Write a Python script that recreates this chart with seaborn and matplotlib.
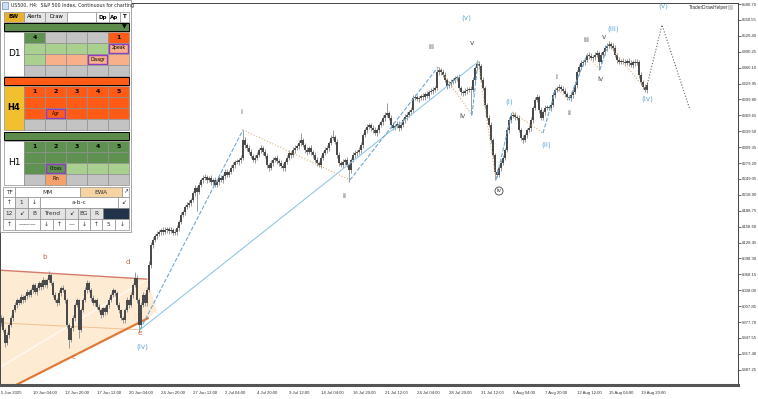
import matplotlib
matplotlib.use("Agg")
import matplotlib.pyplot as plt
import seaborn as sns
import numpy as np
import pandas as pd
from matplotlib.patches import Rectangle, Polygon

sns.set_theme(style="white")
plt.rcParams["font.family"] = ["DejaVu Sans"]

# ---- price data (US500 H4) ----
first_open = 5975
closes = [
    5985, 5963, 5938, 5953, 5972, 5985, 6000, 6010, 6019, 6014,
    6025, 6019, 6027, 6035, 6029, 6038, 6048, 6035, 6042, 6052,
    6044, 6057, 6048, 6057, 6067, 6052, 6029, 6019, 6014, 6033,
    6042, 6038, 6019, 5972, 5944, 5966, 5985, 6010, 6019, 5963,
    6000, 6019, 6038, 6052, 6038, 6023, 6014, 6019, 6006, 6000,
    5991, 6004, 5997, 6010, 6019, 6029, 6038, 6033, 6010, 6000,
    5985, 5981, 6000, 6019, 6010, 6029, 6048, 6061, 6019, 5972,
    6010, 6029, 6014, 6038, 6086, 6124,
    6133, 6141, 6145, 6148, 6152, 6148, 6152, 6154, 6150, 6152,
    6147, 6148, 6156, 6167, 6181, 6186, 6196, 6200, 6203, 6209,
    6222, 6232, 6224, 6238, 6247, 6251, 6253, 6247, 6251, 6243,
    6247, 6238, 6243, 6251, 6247, 6255, 6262, 6257, 6262, 6270,
    6275, 6281, 6281, 6285, 6289, 6323,
    6313, 6308, 6300, 6293, 6285, 6289, 6294, 6304, 6308, 6300,
    6293, 6275, 6270, 6279, 6285, 6289, 6283, 6279, 6274, 6270,
    6281, 6289, 6298, 6294, 6304, 6308, 6312, 6317, 6323, 6313,
    6304, 6300, 6308, 6300, 6294, 6285, 6279, 6275, 6289, 6298,
    6304, 6308, 6317, 6327, 6329, 6319, 6294, 6279, 6275, 6281,
    6285, 6275, 6266,
    6285, 6294, 6298, 6300, 6304, 6313, 6332, 6342, 6348, 6351,
    6346, 6342, 6336, 6342, 6351, 6357, 6365, 6370, 6374, 6365,
    6351, 6346, 6349, 6353, 6346, 6351, 6361, 6366, 6370, 6376,
    6380, 6403, 6404, 6401, 6403, 6406, 6404, 6410, 6406, 6414,
    6416, 6418, 6421, 6452, 6456, 6452, 6446, 6437, 6425, 6429,
    6433, 6437, 6440, 6442, 6421, 6414, 6412, 6416, 6418, 6420,
    6418, 6437, 6459, 6467,
    6463, 6437, 6421, 6389, 6365, 6351, 6323, 6294, 6262, 6257,
    6270, 6279, 6289, 6304, 6342, 6361, 6368, 6370, 6366, 6365,
    6342, 6327, 6323, 6332, 6342, 6346, 6361, 6384, 6399, 6404,
    6380, 6365, 6376, 6384, 6385, 6384, 6389, 6408, 6418, 6421,
    6423, 6420, 6416, 6410, 6404, 6403, 6408, 6414, 6427, 6452,
    6461, 6469, 6471, 6475, 6484, 6482, 6478, 6480, 6484, 6488,
    6471, 6484, 6490, 6497, 6501, 6505, 6501, 6497, 6484, 6475,
    6471, 6473, 6471, 6469, 6473, 6469, 6465, 6471, 6469, 6471,
    6446, 6433, 6423, 6418, 6427,
]
wick_up = [
    6, 4, 3, 5, 4, 6, 3, 5, 4, 3, 5, 4, 3, 6, 4, 5, 4, 3, 5, 4,
    4, 6, 3, 5, 7, 4, 3, 5, 4, 6, 4, 5, 3, 4, 3, 5, 6, 4, 5, 3,
    5, 4, 6, 5, 3, 4, 5, 3, 4, 6, 4, 3, 5, 4, 6, 4, 5, 3, 4, 5,
    3, 5, 4, 6, 3, 5, 4, 12, 5, 4, 6, 5, 4, 7, 8, 6, 5, 4, 6, 5,
    4, 6, 5, 4, 3, 5, 4, 6, 5, 4, 6, 5, 4, 5, 6, 4, 5, 6, 4, 5,
    4, 6, 5, 4, 3, 5, 4, 6, 5, 4, 5, 4, 6, 5, 4, 5, 6, 4, 5, 4,
    6, 19, 5, 4, 6, 5, 4, 5, 6, 4, 5, 4, 6, 5, 4, 5, 6, 4, 5, 4,
    6, 5, 4, 5, 6, 4, 5, 6, 4, 5, 13, 4, 5, 6, 4, 5, 4, 6, 5, 4,
    5, 4, 6, 5, 4, 5, 13, 4, 5, 6, 4, 5, 4, 6, 5, 4, 6, 5, 4, 5,
    6, 5, 4, 6, 5, 4, 5, 6, 4, 5, 4, 6, 5, 19, 4, 5, 6, 4, 5, 6,
    5, 4, 6, 5, 4, 5, 6, 4, 5, 4, 5, 6, 4, 5, 4, 6, 5, 4, 6, 5,
    4, 5, 6, 4, 5, 6, 4, 5, 4, 6, 5, 4, 6, 5, 4, 5, 6, 4, 8, 5,
    4, 6, 5, 4, 5, 6, 4, 5, 6, 4, 5, 6, 4, 5, 6, 4, 5, 6, 4, 5,
    4, 6, 5, 4, 5, 6, 4, 5, 6, 4, 5, 4, 6, 5, 4, 5, 6, 4, 5, 6,
    4, 5, 6, 4, 5, 4, 6, 5, 4, 5, 6, 4, 5, 4, 6, 5, 4, 6, 5, 4,
    5, 4, 6, 5, 6, 4, 5, 6, 4, 5, 4, 6, 5, 4, 5, 6, 4, 5, 6, 4,
    5, 4, 6, 5,
]
wick_dn = [
    4, 5, 8, 4, 5, 3, 6, 4, 5, 4, 3, 5, 4, 6, 4, 3, 5, 4, 6, 4,
    5, 3, 4, 6, 4, 5, 4, 3, 5, 4, 6, 4, 5, 5, 16, 4, 5, 6, 4, 16,
    5, 4, 3, 5, 4, 6, 4, 5, 3, 4, 5, 4, 6, 4, 5, 3, 4, 6, 4, 5,
    4, 5, 6, 4, 5, 4, 6, 3, 5, 13, 5, 4, 6, 5, 4, 5, 6, 4, 5, 4,
    6, 5, 4, 5, 6, 4, 5, 4, 6, 5, 4, 5, 6, 4, 5, 6, 4, 5, 35, 4,
    5, 6, 4, 5, 4, 6, 5, 4, 5, 6, 4, 5, 6, 4, 5, 4, 6, 5, 4, 5,
    6, 4, 5, 6, 4, 5, 4, 6, 5, 4, 5, 6, 4, 5, 6, 4, 5, 4, 6, 5,
    4, 5, 6, 4, 5, 6, 4, 5, 4, 6, 5, 4, 6, 5, 4, 5, 6, 4, 5, 4,
    6, 5, 4, 5, 6, 4, 5, 4, 6, 5, 4, 5, 6, 4, 23, 5, 4, 6, 5, 4,
    5, 6, 4, 5, 4, 6, 5, 4, 6, 5, 4, 5, 6, 4, 5, 6, 4, 5, 4, 6,
    5, 4, 6, 5, 4, 5, 6, 4, 5, 6, 4, 5, 6, 4, 5, 4, 6, 5, 4, 5,
    6, 4, 5, 6, 4, 5, 4, 6, 5, 4, 5, 6, 4, 5, 4, 48, 6, 5, 4, 6,
    5, 4, 6, 5, 4, 6, 5, 15, 4, 5, 6, 4, 5, 4, 6, 5, 4, 6, 5, 4,
    5, 6, 4, 5, 4, 6, 5, 4, 5, 6, 4, 5, 6, 4, 5, 6, 4, 5, 4, 6,
    5, 4, 6, 5, 4, 6, 5, 4, 5, 6, 4, 5, 6, 4, 5, 4, 6, 5, 4, 15,
    5, 4, 6, 5, 4, 6, 5, 4, 6, 5, 4, 5, 6, 4, 5, 4, 6, 5, 4, 5,
    6, 4, 5, 6,
]

tick_bars = [0, 16, 32, 48, 64, 80, 96, 112, 128, 144, 160, 176, 192, 208,
             224, 240, 256, 272, 288, 304, 320]
tick_labels = ["5 Jun 2025", "10 Jun 04:00", "12 Jun 20:00", "17 Jun 12:00",
               "20 Jun 04:00", "24 Jun 20:00", "27 Jun 12:00", "2 Jul 04:00",
               "4 Jul 20:00", "9 Jul 12:00", "14 Jul 04:00", "16 Jul 20:00",
               "21 Jul 12:00", "24 Jul 04:00", "28 Jul 20:00", "31 Jul 12:00",
               "5 Aug 04:00", "7 Aug 20:00", "12 Aug 12:00", "15 Aug 04:00",
               "19 Aug 20:00"]
price_ticks = [6580.70, 6550.55, 6520.40, 6490.25, 6460.10, 6429.95, 6399.80,
               6369.65, 6339.50, 6309.35, 6279.20, 6249.05, 6218.90, 6188.75,
               6158.60, 6128.45, 6098.30, 6068.15, 6038.00, 6007.85, 5977.70,
               5947.55, 5917.40, 5887.25]

# wave pivots (bar index, price)
main_bars = [69.5, 121, 174.5, 218.5, 235.5, 238.5, 247.5]
main_prices = [5963, 6342, 6247, 6461, 6370, 6471, 6247]
main_names = ["(iv)", "i", "ii", "iii", "iv", "v", "iv"]
sub_bars = [247.5, 255.5, 271, 303.5, 322.5, 330.5, 344.5]
sub_prices = [6247, 6376, 6336, 6505, 6418, 6541, 6380]
sub_names = ["", "(i)", "(ii)", "(iii)", "(iv)", "(v)", ""]
minor_bars = [271, 277.5, 284, 293, 299.5, 303.5]
minor_prices = [6336, 6421, 6399, 6484, 6456, 6505]
minor_names = ["", "i", "ii", "iii", "iv", "v"]

tri_names = ["b", "c", "d", "e"]
tri_bars = [24, 34, 67, 69]
tri_prices = [6074, 5928, 6073, 5962]
tri_upper_bars, tri_upper_prices = [-0.5, 73], [6076, 6059]
tri_lower_bars, tri_lower_prices = [-0.5, 73.5], [5843, 5985]
tri_tip_bar, tri_tip_price = 78, 5999
tri_base_bars, tri_base_prices = [-0.5, 69.5], [5976, 5963]

BLUE = "#6aa9d6"
TAN = "#d9b27c"
GREY = "#555555"
RED = "#c9654e"
TICKFONT = "Liberation Sans"

fig = plt.figure(figsize=(7.58, 3.99), dpi=100)
ax = fig.add_axes([0.0, 1 - 385 / 399, 738 / 758, (385 - 3) / 399])

# triangle area
poly = list(zip(tri_upper_bars, tri_upper_prices)) + [(tri_tip_bar, tri_tip_price)] + \
    list(zip(tri_lower_bars[::-1], tri_lower_prices[::-1]))
ax.add_patch(Polygon(poly, closed=True, facecolor="#fde6c8", edgecolor="none", alpha=0.8, zorder=0))
sns.lineplot(x=tri_base_bars, y=tri_base_prices, ax=ax, color="#f2c08e", lw=0.7, sort=False, zorder=1)
sns.lineplot(x=[tri_lower_bars[0], tri_upper_bars[1]], y=[5892, tri_upper_prices[1]], ax=ax,
             color="white", lw=0.7, sort=False, zorder=1)
sns.lineplot(x=tri_upper_bars, y=tri_upper_prices, ax=ax, color="#d77a6a", lw=1.0, sort=False, zorder=2)
sns.lineplot(x=tri_lower_bars, y=tri_lower_prices, ax=ax, color="#e07a35", lw=1.6, sort=False, zorder=2)

# candles
df = pd.DataFrame({"close": closes, "up": wick_up, "dn": wick_dn})
df["bar"] = np.arange(len(df))
df["open"] = [first_open] + closes[:-1]
df["hi"] = df[["open", "close"]].max(axis=1) + df["up"]
df["lo"] = df[["open", "close"]].min(axis=1) - df["dn"]
ax.vlines(df["bar"], df["lo"], df["hi"], color="#9a9a9a", lw=0.7, zorder=3)
body = np.maximum((df["close"] - df["open"]).abs(), 1.5)
ax.bar(df["bar"], body, bottom=df[["open", "close"]].min(axis=1), width=0.85,
       color="#4a4a4a", edgecolor="none", zorder=4)


def leg(xs, ys, color, ls, lw=0.8):
    sns.lineplot(x=xs, y=ys, ax=ax, color=color, linestyle=ls, lw=lw, sort=False, zorder=5)


# long trend line (iv) -> v
leg([main_bars[0], main_bars[5]], [main_prices[0], main_prices[5]], "#93c6e4", "-", 0.8)
for seq_b, seq_p in [(main_bars, main_prices), (sub_bars[:3], sub_prices[:3]),
                     (minor_bars, minor_prices)]:
    for k in range(len(seq_b) - 1):
        up = seq_p[k + 1] > seq_p[k]
        leg(seq_b[k:k + 2], seq_p[k:k + 2], BLUE if up else TAN, "--" if up else ":", 0.8)
leg(sub_bars[3:5], sub_prices[3:5], TAN, ":", 0.8)
leg(sub_bars[4:7], sub_prices[4:7], "#666666", ":", 0.8)


def lab(x, y, t, dx, dy, color, fs=5.2, **kw):
    ax.annotate(t, (x, y), xytext=(dx, dy), textcoords="offset pixels",
                ha="center", va="center", fontsize=fs, color=color, zorder=6, **kw)


main_off = [(2, -17), (-2, 18), (-6, -16), (-7, 20), (-10, -1), (-6, 19)]
for b, p, t, (dx, dy) in zip(main_bars[:6], main_prices[:6], main_names[:6], main_off):
    lab(b, p, t, dx, dy, BLUE if t.startswith("(") else GREY)
lab(main_bars[5], main_prices[5], "(v)", -12, 44, BLUE)
lab(main_bars[6], main_prices[6], "iv", 3, -11, "#333333", fs=4.2,
    bbox=dict(boxstyle="circle,pad=0.25", fc="white", ec="#444444", lw=0.6))
sub_off = [(-3, 10), (3, -12), (5, 15), (1, -9), (1, 19)]
for b, p, t, (dx, dy) in zip(sub_bars[1:6], sub_prices[1:6], sub_names[1:6], sub_off):
    lab(b, p, t, dx, dy, BLUE)
minor_off = [(0, 11), (0, -13), (-1, 15), (1, -9), (-4, 7)]
for b, p, t, (dx, dy) in zip(minor_bars[1:], minor_prices[1:], minor_names[1:], minor_off):
    lab(b, p, t, dx, dy, GREY)
tri_off = [(-4, 14), (5, -9), (-7, 10), (1, -3)]
for b, p, t, (dx, dy) in zip(tri_bars, tri_prices, tri_names, tri_off):
    lab(b, p, t, dx, dy, RED)

ax.set_xlim(-0.5, 368.5)
ax.set_ylim(5858.3, 6582.6)
ax.yaxis.tick_right()
ax.set_yticks(price_ticks)
ax.set_yticklabels([f"{v:.2f}" for v in price_ticks])
ax.set_xticks(tick_bars)
ax.set_xticklabels(tick_labels)
for t in ax.get_xticklabels():
    t.set_ha("left")
ax.tick_params(axis="both", labelsize=3.1, length=2, width=0.5, pad=1, colors="#333333",
               labelfontfamily=TICKFONT)
ax.tick_params(axis="y", direction="out", pad=0.8)
ax.tick_params(axis="x", direction="out", pad=2)
for s in ["top", "right", "left"]:
    ax.spines[s].set_color("#444444")
    ax.spines[s].set_linewidth(0.7)
ax.spines["bottom"].set_color("#555555")
ax.spines["bottom"].set_linewidth(2.2)
ax.set_xlabel("")
ax.set_ylabel("")

# ---- overlay panel in pixel coordinates ----
ov = fig.add_axes([0, 0, 1, 1])
ov.set_xlim(0, 758)
ov.set_ylim(399, 0)
ov.axis("off")
ov.text(689, 8, "TraderDrawHelper", fontsize=3.4, color="#333333", va="center", ha="left",
        family=TICKFONT)
ov.add_patch(Rectangle((728, 5), 5, 5, fc="#d0d0d0", ec="none"))

C = {"dg": "#5f9150", "lg": "#a9d08e", "gr": "#c3c3c3", "or": "#ff5b17",
     "pe": "#f8b08a", "pi": "#f4a06c", "w": "white", "ye": "#f0c030",
     "tan": "#f6d3a3", "nv": "#23344a", "lt": "#e3e3e3"}


def cell(x0, y0, x1, y1, fc, text="", bold=False, fs=4.2, ec="#8f8f8f", lw=0.5, tc="black", purple=False):
    ov.add_patch(Rectangle((x0, y0), x1 - x0, y1 - y0, facecolor=C.get(fc, fc), edgecolor=ec, linewidth=lw))
    if purple:
        ov.add_patch(Rectangle((x0 + 1, y0 + 1), x1 - x0 - 2, y1 - y0 - 2, facecolor="none",
                               edgecolor="#8e3fbf", linewidth=1.0))
    if text:
        ov.text((x0 + x1) / 2, (y0 + y1) / 2, text, ha="center", va="center", fontsize=fs,
                color=tc, fontweight="bold" if bold else "normal")


ov.add_patch(Rectangle((0, 0), 131, 232, facecolor="white", edgecolor="#9a9a9a", linewidth=0.6))
ov.add_patch(Rectangle((2, 2), 6, 7, facecolor="#cfe0f5", edgecolor="#6f8fb8", linewidth=0.5))
ov.text(11, 5.8, "US500, H4:  S&P 500 Index, Continuous for charting", fontsize=3.4,
        color="#222222", va="center", ha="left")

cell(4, 12, 24, 22, "#e9b22c", "BW", bold=True, fs=4)
cell(24, 12, 45, 22, "#e4e4e4", "Alerts", fs=3.8)
cell(45, 12, 67, 22, "#e4e4e4", "Draw", fs=3.8)
cell(67, 12, 96, 22, "w")
cell(96, 12, 109, 22, "w", "Dp", bold=True, fs=4)
cell(109, 12, 120, 22, "w", "Ap", bold=True, fs=4)
cell(120, 12, 129, 22, "w", "T", bold=True, fs=4)

cols = [24, 45, 66, 87, 108, 129]
tf_blocks = [
    ("D1", 23, "#5c8b4b", "w",
     [["dg", "gr", "gr", "gr", "or"], ["lg", "lg", "lg", "lg", "pe"],
      ["lg", "pe", "pe", "pe", "pe"], ["gr", "gr", "gr", "gr", "gr"]],
     {(0, 0): "4", (0, 4): "1", (1, 4): "2peak", (2, 3): "Disagr"}),
    ("H4", 77, "#ff5b17", "ye",
     [["or"] * 5, ["or"] * 5, ["or"] * 5, ["gr"] * 5],
     {(0, 0): "1", (0, 1): "2", (0, 2): "3", (0, 3): "4", (0, 4): "5", (2, 1): "Agr"}),
    ("H1", 132, "#5c8b4b", "w",
     [["dg"] * 5, ["dg"] * 5, ["dg", "dg", "lg", "lg", "lg"], ["gr", "pi", "gr", "gr", "gr"]],
     {(0, 0): "1", (0, 1): "2", (0, 2): "3", (0, 3): "4", (0, 4): "5", (2, 1): "Cross", (3, 1): "Pin"}),
]
for name, y0, barc, labc, grid, texts in tf_blocks:
    ov.add_patch(Rectangle((4, y0), 125, 8, facecolor=barc, edgecolor="black", linewidth=0.7))
    if name == "D1":
        ov.text(124, y0 + 4, "▼", fontsize=4.5, ha="center", va="center", color="black")
    rows = [y0 + 9, y0 + 19.5, y0 + 30.5, y0 + 41.5, y0 + 52.5]
    cell(4, rows[0], 24, rows[-1], labc, name, bold=(name == "H4"), fs=6.5 if name != "H4" else 6)
    for r in range(4):
        for c in range(5):
            t = texts.get((r, c), "")
            small = len(t) > 1
            cell(cols[c], rows[r], cols[c + 1], rows[r + 1], grid[r][c], t, bold=not small,
                 fs=3.3 if small else 4.5, purple=small and t != "Pin")

# bottom control table
ctrl = [
    (187, 197, [(3, 15, "TF", "w"), (15, 80, "MM", "w"), (80, 122, "EWA", "tan"), (122, 129, "↗", "w")]),
    (197, 208, [(3, 15, "↑", "w"), (15, 28, "1", "lt"), (28, 40, "↓", "w"), (40, 118, "a-b-c", "w"),
                (118, 129, "↙", "w")]),
    (208, 219, [(3, 15, "12", "lt"), (15, 28, "↙", "lt"), (28, 40, "B", "lt"), (40, 65, "Trend", "lt"),
                (65, 78, "↙", "lt"), (78, 90, "BG", "lt"), (90, 103, "R", "lt"), (103, 129, "", "nv")]),
    (219, 230, [(3, 15, "↑", "w"), (15, 40, "———", "w"), (40, 53, "↓", "w"), (53, 65, "↑", "w"),
                (65, 78, "—", "w"), (78, 90, "↓", "w"), (90, 102, "↑", "w"), (102, 115, "5", "w"),
                (115, 129, "↓", "w")]),
]
for y0, y1, cells in ctrl:
    for x0, x1, t, fc in cells:
        cell(x0, y0, x1, y1, fc, t, fs=4.2, tc="#333333")

fig.savefig("out.png", dpi=100)
